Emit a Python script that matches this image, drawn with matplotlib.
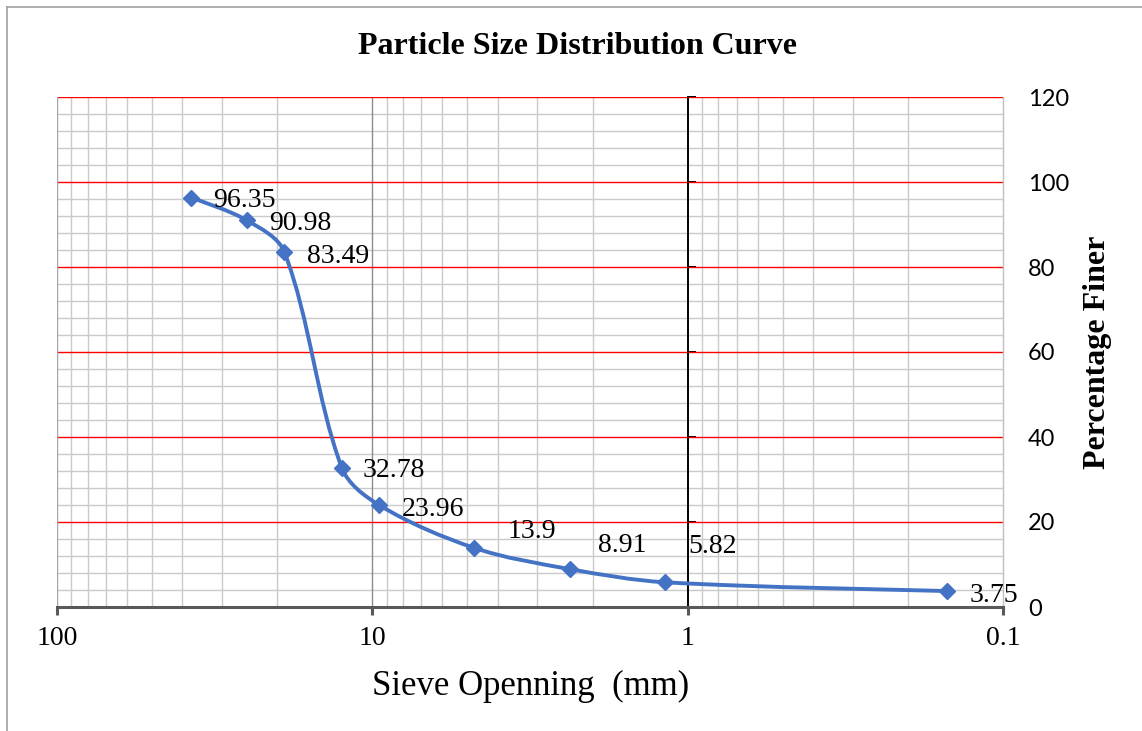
import numpy as np
import matplotlib
matplotlib.use("Agg")
import matplotlib.pyplot as plt
from matplotlib.path import Path
from matplotlib.patches import PathPatch
from matplotlib.lines import Line2D
from matplotlib.ticker import FixedLocator, NullFormatter

# ---- data ----
sieve_mm = [37.5, 25, 19, 12.5, 9.5, 4.75, 2.36, 1.18, 0.15]
percent_finer = [96.35, 90.98, 83.49, 32.78, 23.96, 13.9, 8.91, 5.82, 3.75]
point_labels = ["96.35", "90.98", "83.49", "32.78", "23.96", "13.9", "8.91", "5.82", "3.75"]
x_ticks = [100, 10, 1, 0.1]
x_ticklabels = ["100", "10", "1", "0.1"]
y_ticks = [0, 20, 40, 60, 80, 100, 120]
y_ticklabels = ["0", "20", "40", "60", "80", "100", "120"]

# label offsets (points) - style only
label_offsets = [(16, -2), (16, -2), (16, -3), (15, -2), (16, -3), (24, 12), (20, 17), (17, 26), (16, -3)]

serif = "Liberation Serif"
blue = "#4472C4"

fig = plt.figure(figsize=(11.42, 7.31), dpi=100)
ax = fig.add_axes([57 / 1142, 1 - 607 / 731, 946 / 1142, 510 / 731])
ax.set_xscale("log")
ax.set_xlim(100, 0.1)
ax.set_ylim(0, 120)

# minor / major grids
minor_x = [m * 10.0 ** e for e in (-1, 0, 1) for m in range(2, 10)]
for xv in minor_x:
    ax.axvline(xv, color="#cacaca", lw=1.0, zorder=1)
ax.axvline(10, color="#8c8c8c", lw=1.0, zorder=1.5)
for yv in np.arange(0, 121, 4):
    if yv % 20:
        ax.axhline(yv, color="#cacaca", lw=1.0, zorder=1)
for yv in y_ticks[1:]:
    ax.axhline(yv, color="#ff0000", lw=1.0, zorder=2)

# smoothed line: Bezier with tangents scaled by segment lengths (screen-like space)
sx, sy = 315.5, 4.25
Q = np.column_stack([np.log10(sieve_mm) * sx, np.array(percent_finer, float) * sy])
n = len(Q)
L = np.hypot(*(np.diff(Q, axis=0).T))
verts = [Q[0]]
codes = [Path.MOVETO]
for i in range(n - 1):
    if i == 0:
        c1 = Q[0] + (Q[1] - Q[0]) / 6.0
    else:
        c1 = Q[i] + (Q[i + 1] - Q[i - 1]) * (L[i] / (L[i - 1] + L[i])) / 3.0
    if i + 1 == n - 1:
        c2 = Q[n - 1] - (Q[n - 1] - Q[n - 2]) / 6.0
    else:
        c2 = Q[i + 1] - (Q[i + 2] - Q[i]) * (L[i] / (L[i] + L[i + 1])) / 3.0
    verts += [c1, c2, Q[i + 1]]
    codes += [Path.CURVE4] * 3
verts = np.array(verts)
verts = np.column_stack([10.0 ** (verts[:, 0] / sx), verts[:, 1] / sy])
ax.add_patch(PathPatch(Path(verts, codes), fill=False, edgecolor=blue, lw=2.8,
                       zorder=4, capstyle="round", joinstyle="round"))
ax.plot(sieve_mm, percent_finer, linestyle="none", marker="D", markersize=8.5,
        color=blue, zorder=5)

for xv, yv, lab, off in zip(sieve_mm, percent_finer, point_labels, label_offsets):
    ax.annotate(lab, (xv, yv), xytext=off, textcoords="offset points",
                ha="left", va="center", fontsize=20, family=serif, color="black", zorder=6)

# spines
ax.spines["top"].set_visible(False)
ax.spines["right"].set_color("#c0c0c0")
ax.spines["right"].set_linewidth(1.0)
ax.spines["bottom"].set_color("#595959")
ax.spines["bottom"].set_linewidth(2.2)
ax.spines["bottom"].set_zorder(3)
ax.spines["left"].set_position(("data", 1))
ax.spines["left"].set_color("black")
ax.spines["left"].set_linewidth(1.4)
ax.spines["left"].set_zorder(3)
ax.axvline(100, color="#a6a6a6", lw=1.0, zorder=2)

ax.xaxis.set_major_locator(FixedLocator(x_ticks))
ax.set_xticklabels(x_ticklabels, fontsize=20, family=serif)
ax.xaxis.set_minor_formatter(NullFormatter())
ax.tick_params(axis="x", which="major", direction="out", length=6, width=2.2,
               color="#595959", pad=8)
ax.tick_params(axis="x", which="minor", length=0)

ax.yaxis.set_major_locator(FixedLocator(y_ticks))
ax.set_yticklabels(y_ticklabels, fontsize=17, family="Lato")
ax.tick_params(axis="y", which="major", direction="in", length=6, width=1.4,
               color="black", left=True, right=False, labelleft=False,
               labelright=True, pad=18)
ax.tick_params(axis="y", which="minor", length=0)

fig.text(578 / 1142, 1 - 47 / 731, "Particle Size Distribution Curve", ha="center",
         va="center", fontsize=23, fontweight="bold", family=serif)
fig.text(531 / 1142, 1 - 686 / 731, "Sieve Openning  (mm)", ha="center",
         va="center", fontsize=25, family=serif)
fig.text(1098 / 1142, 1 - 352 / 731, "Percentage Finer", ha="center", va="center",
         rotation=90, fontsize=23, fontweight="bold", family=serif)

# outer frame lines
fig.add_artist(Line2D([7 / 1142, 1], [1 - 7 / 731, 1 - 7 / 731], transform=fig.transFigure,
                      color="#a0a0a0", lw=1.2))
fig.add_artist(Line2D([7 / 1142, 7 / 1142], [0, 1 - 7 / 731], transform=fig.transFigure,
                      color="#a0a0a0", lw=1.2))

fig.savefig("out.png", dpi=100)
